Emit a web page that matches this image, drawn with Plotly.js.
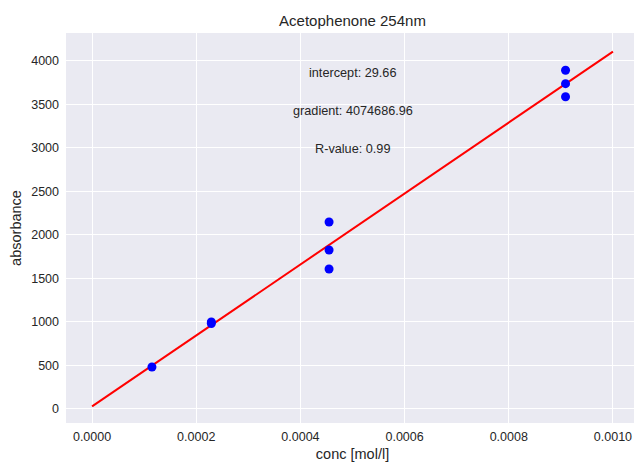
<!DOCTYPE html>
<html>
<head>
<meta charset="utf-8">
<script src="https://cdn.plot.ly/plotly-3.0.1.min.js"></script>
<style>
html,body{margin:0;padding:0;overflow:hidden;background:#fff;}
#chart{width:640px;height:462px;}
</style>
</head>
<body>
<div id="chart"></div>
<script>
// measured data points
const concX = [0.000115, 0.000229, 0.000229, 0.000455, 0.000455, 0.000455, 0.000909, 0.000909, 0.000909];
const absY  = [482, 1000, 982, 2147, 1826, 1608, 3890, 3736, 3586];
// fitted line endpoints
const fitX = [0.0, 0.001];
const fitY = [29.66, 4104.35];
// annotation texts
const infoText = ["intercept: 29.66", "gradient: 4074686.96", "R-value: 0.99"];
const infoY = [3860, 3420, 2985];
const infoX = 0.0005;

const fontFam = "Liberation Sans, Arial, sans-serif";
const txtCol = "#262626";

const traces = [
  {x: fitX, y: fitY, mode: "lines", type: "scatter",
   line: {color: "#ff0000", width: 2}, hoverinfo: "skip"},
  {x: concX, y: absY, mode: "markers", type: "scatter",
   marker: {color: "#0000ff", size: 9}}
];

const layout = {
  width: 640, height: 462,
  margin: {l: 66, r: 1, t: 33, b: 39},
  paper_bgcolor: "#ffffff",
  plot_bgcolor: "#EAEAF2",
  showlegend: false,
  font: {family: fontFam, size: 12, color: txtCol},
  title: {text: "Acetophenone 254nm", font: {family: fontFam, size: 15, color: txtCol},
          x: 0.5, xref: "paper", y: 1, yref: "paper", yanchor: "bottom", pad: {b: 7}},
  xaxis: {
    range: [-0.00005, 0.00105], dtick: 0.0002, tick0: 0, tickformat: ".4f",
    showgrid: true, gridcolor: "#ffffff", gridwidth: 1, zeroline: false, showline: false,
    ticks: "", ticklen: 0, ticklabelstandoff: 4,
    tickfont: {family: fontFam, size: 12.5, color: txtCol},
    title: {text: "conc [mol/l]", font: {family: fontFam, size: 14.5, color: txtCol}, standoff: 6}
  },
  yaxis: {
    range: [-161, 4318], dtick: 500, tick0: 0,
    showgrid: true, gridcolor: "#ffffff", gridwidth: 1, zeroline: false, showline: false,
    ticks: "", ticklen: 0, ticklabelstandoff: 6,
    tickfont: {family: fontFam, size: 12.5, color: txtCol},
    title: {text: "absorbance", font: {family: fontFam, size: 14.5, color: txtCol}, standoff: 6}
  },
  annotations: infoText.map((t, i) => ({
    x: infoX, y: infoY[i], xref: "x", yref: "y", text: t, showarrow: false,
    xanchor: "center", yanchor: "middle",
    font: {family: fontFam, size: 12.7, color: txtCol}
  }))
};

Plotly.newPlot("chart", traces, layout, {displayModeBar: false, staticPlot: true});
</script>
</body>
</html>
